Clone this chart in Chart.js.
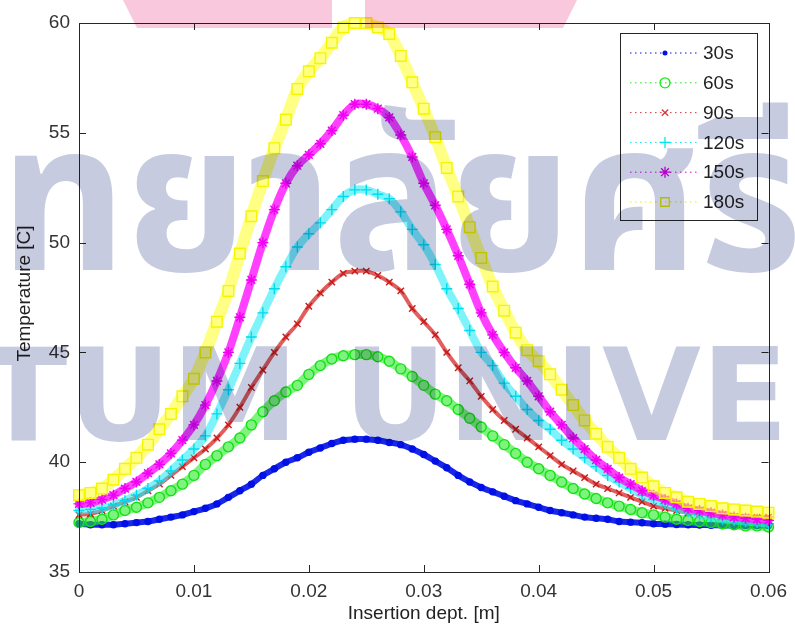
<!DOCTYPE html>
<html>
<head>
<meta charset="utf-8">
<script src="https://cdn.jsdelivr.net/npm/chart.js@4.4.0/dist/chart.umd.min.js"></script>
<style>
  html, body { margin: 0; padding: 0; background: #fff; }
  canvas { display: block; }
</style>
</head>
<body>
<canvas id="chartCanvas" width="795" height="632"></canvas>
<script>
// insertion depth [m], one sample per millimetre
const depth = [0, 0.001, 0.002, 0.003, 0.004, 0.005, 0.006, 0.007, 0.008, 0.009,
  0.010, 0.011, 0.012, 0.013, 0.014, 0.015, 0.016, 0.017, 0.018, 0.019,
  0.020, 0.021, 0.022, 0.023, 0.024, 0.025, 0.026, 0.027, 0.028, 0.029,
  0.030, 0.031, 0.032, 0.033, 0.034, 0.035, 0.036, 0.037, 0.038, 0.039,
  0.040, 0.041, 0.042, 0.043, 0.044, 0.045, 0.046, 0.047, 0.048, 0.049,
  0.050, 0.051, 0.052, 0.053, 0.054, 0.055, 0.056, 0.057, 0.058, 0.059, 0.060];

const temp30s = [37.2, 37.15, 37.15, 37.15, 37.2, 37.25, 37.3, 37.4, 37.5, 37.6,
  37.75, 37.9, 38.1, 38.4, 38.7, 39.0, 39.4, 39.7, 40.0, 40.2,
  40.45, 40.65, 40.85, 41.0, 41.05, 41.05, 41.0, 40.9, 40.8, 40.6,
  40.35, 40.05, 39.75, 39.4, 39.1, 38.85, 38.65, 38.45, 38.25, 38.1,
  37.95, 37.8, 37.7, 37.6, 37.5, 37.45, 37.4, 37.3, 37.27, 37.24,
  37.2, 37.18, 37.16, 37.15, 37.14, 37.13, 37.12, 37.12, 37.12, 37.12, 37.12];

const temp60s = [37.25, 37.3, 37.4, 37.6, 37.8, 37.95, 38.15, 38.4, 38.7, 39.0,
  39.4, 39.9, 40.3, 40.7, 41.1, 41.7, 42.3, 42.8, 43.2, 43.5,
  44.0, 44.4, 44.7, 44.85, 44.9, 44.9, 44.8, 44.6, 44.25, 43.9,
  43.5, 43.1, 42.8, 42.4, 42.0, 41.6, 41.2, 40.8, 40.4, 40.0,
  39.7, 39.4, 39.1, 38.8, 38.55, 38.35, 38.15, 38.0, 37.85, 37.7,
  37.6, 37.5, 37.4, 37.35, 37.3, 37.25, 37.2, 37.15, 37.1, 37.1, 37.05];

const temp90s = [37.6, 37.65, 37.8, 38.0, 38.2, 38.4, 38.7, 39.0, 39.4, 39.8,
  40.2, 40.6, 41.1, 41.7, 42.5, 43.4, 44.2, 45.0, 45.7, 46.3,
  47.1, 47.7, 48.2, 48.6, 48.7, 48.7, 48.5, 48.2, 47.8, 47.0,
  46.4, 45.8, 45.0, 44.3, 43.7, 43.0, 42.4, 41.9, 41.5, 41.1,
  40.7, 40.3, 39.9, 39.6, 39.3, 39.0, 38.8, 38.6, 38.4, 38.2,
  38.0, 37.9, 37.8, 37.7, 37.65, 37.6, 37.55, 37.5, 37.5, 37.5, 37.5];

const temp120s = [37.8, 37.85, 37.9, 38.05, 38.25, 38.5, 38.8, 39.15, 39.6, 40.1,
  40.6, 41.2, 42.2, 43.3, 44.5, 45.7, 46.8, 47.9, 48.9, 49.8,
  50.4, 50.9, 51.5, 52.1, 52.4, 52.4, 52.2, 52.0, 51.4, 50.6,
  49.9, 49.0, 47.9, 47.0, 46.0, 45.0, 44.4, 43.6, 43.0, 42.4,
  41.9, 41.5, 41.0, 40.6, 40.2, 39.8, 39.4, 39.1, 38.8, 38.5,
  38.3, 38.1, 37.9, 37.75, 37.6, 37.5, 37.4, 37.35, 37.3, 37.25, 37.2];

const temp150s = [38.1, 38.15, 38.3, 38.5, 38.8, 39.1, 39.5, 39.9, 40.4, 41.0,
  41.7, 42.6, 43.7, 45.0, 46.6, 48.3, 50.0, 51.5, 52.7, 53.5,
  54.0, 54.5, 55.1, 55.8, 56.3, 56.3, 56.1, 55.7, 54.9, 53.9,
  52.7, 51.7, 50.6, 49.4, 48.1, 46.8, 45.8, 45.0, 44.3, 43.7,
  43.0, 42.3, 41.7, 41.1, 40.6, 40.1, 39.7, 39.3, 39.0, 38.7,
  38.5, 38.3, 38.1, 37.9, 37.8, 37.7, 37.6, 37.5, 37.45, 37.4, 37.35];

const temp180s = [38.5, 38.6, 38.8, 39.2, 39.7, 40.2, 40.8, 41.5, 42.2, 43.0,
  43.8, 45.0, 46.4, 47.8, 49.5, 51.2, 52.8, 54.3, 55.6, 57.0,
  57.8, 58.4, 59.1, 59.8, 60.0, 60.0, 59.8, 59.5, 58.5, 57.3,
  56.1, 54.8, 53.4, 52.1, 50.7, 49.3, 48.0, 46.9, 45.9, 45.1,
  44.6, 44.0, 43.3, 42.6, 41.9, 41.3, 40.7, 40.2, 39.7, 39.3,
  38.9, 38.6, 38.4, 38.2, 38.1, 38.0, 37.9, 37.85, 37.8, 37.75, 37.7];

const seriesNames = ["30s", "60s", "90s", "120s", "150s", "180s"];
const seriesValues = [temp30s, temp60s, temp90s, temp120s, temp150s, temp180s];
const xTicks = [0, 0.01, 0.02, 0.03, 0.04, 0.05, 0.06];
const yTicks = [35, 40, 45, 50, 55, 60];

// matlab style: '.', 'o', 'x', '+', '*', 's'
// band = the thick trail the densely packed markers leave in the picture
const styles = [
  { color: "rgb(0,16,230)", band: "rgba(0,16,230,0.9)", bandW: 6, marker: "circle", r: 3, fill: true },
  { color: "rgb(20,225,20)", band: "rgba(40,235,40,0.6)", bandW: 9, marker: "circle", r: 5, fill: false },
  { color: "rgb(200,25,25)", band: "rgba(215,40,40,0.75)", bandW: 4, marker: "crossRot", r: 4.5, fill: false },
  { color: "rgb(0,220,235)", band: "rgba(40,235,245,0.6)", bandW: 8, marker: "cross", r: 5.5, fill: false },
  { color: "rgb(240,0,240)", band: "rgba(255,30,255,0.85)", bandW: 8, marker: "star", r: 5.5, fill: false },
  { color: "rgb(245,245,0)", band: "rgba(255,255,30,0.55)", bandW: 12, marker: "rect", r: 7.5, fill: false },
];
const legendColors = ["rgb(0,16,230)", "rgb(20,235,20)", "rgb(215,60,60)", "rgb(0,230,240)", "rgb(230,0,230)", "rgb(235,235,0)"];

const FONT = '"Liberation Sans", Arial, sans-serif';

function drawMarker(ctx, kind, x, y, r) {
  ctx.beginPath();
  if (kind === "circle") {
    ctx.arc(x, y, r, 0, Math.PI * 2);
  } else if (kind === "rect") {
    const s = r * Math.SQRT1_2;
    ctx.rect(x - s, y - s, 2 * s, 2 * s);
  } else {
    if (kind === "cross" || kind === "star") {
      ctx.moveTo(x - r, y); ctx.lineTo(x + r, y);
      ctx.moveTo(x, y - r); ctx.lineTo(x, y + r);
    }
    if (kind === "crossRot" || kind === "star") {
      const d = r * Math.SQRT1_2;
      ctx.moveTo(x - d, y - d); ctx.lineTo(x + d, y + d);
      ctx.moveTo(x - d, y + d); ctx.lineTo(x + d, y - d);
    }
  }
}

const decor = {
  id: "decor",
  afterDraw(chart) {
    const ctx = chart.ctx;
    const a = chart.chartArea;
    const xs = chart.scales.x, ys = chart.scales.y;

    // axes box + inward ticks
    ctx.save();
    ctx.strokeStyle = "#262626";
    ctx.lineWidth = 1;
    ctx.strokeRect(Math.round(a.left) + 0.5, Math.round(a.top) + 0.5,
      Math.round(a.right - a.left), Math.round(a.bottom - a.top));
    ctx.beginPath();
    xTicks.forEach(v => {
      const px = Math.round(xs.getPixelForValue(v)) + 0.5;
      ctx.moveTo(px, a.bottom); ctx.lineTo(px, a.bottom - 7);
      ctx.moveTo(px, a.top); ctx.lineTo(px, a.top + 7);
    });
    yTicks.forEach(v => {
      const py = Math.round(ys.getPixelForValue(v)) + 0.5;
      ctx.moveTo(a.left, py); ctx.lineTo(a.left + 7, py);
      ctx.moveTo(a.right, py); ctx.lineTo(a.right - 7, py);
    });
    ctx.stroke();

    // axis titles
    ctx.fillStyle = "#222";
    ctx.font = "19px " + FONT;
    ctx.textAlign = "center";
    ctx.textBaseline = "middle";
    ctx.fillText("Insertion dept. [m]", (a.left + a.right) / 2, 614);
    ctx.save();
    ctx.translate(25, (a.top + a.bottom) / 2 - 4);
    ctx.rotate(-Math.PI / 2);
    ctx.fillText("Temperature [C]", 0, 0);
    ctx.restore();

    // legend box
    const lx = 620, ly = 33, lw = 137, lh = 187;
    ctx.fillStyle = "#fff";
    ctx.fillRect(lx, ly, lw, lh);
    ctx.strokeStyle = "#262626";
    ctx.strokeRect(lx + 0.5, ly + 0.5, lw, lh);
    seriesNames.forEach((name, i) => {
      const st = styles[i];
      const col = legendColors[i];
      const cy = ly + 20 + i * 29.8;
      ctx.save();
      ctx.strokeStyle = col;
      ctx.lineWidth = 1;
      ctx.setLineDash([1.5, 3.5]);
      ctx.beginPath();
      ctx.moveTo(lx + 10, cy); ctx.lineTo(lx + 80, cy);
      ctx.stroke();
      ctx.restore();
      ctx.save();
      ctx.strokeStyle = col;
      ctx.fillStyle = col;
      ctx.lineWidth = 1.3;
      drawMarker(ctx, st.marker, lx + 45, cy, st.fill ? 2.5 : Math.min(st.r, 6));
      if (st.fill) ctx.fill(); else ctx.stroke();
      ctx.restore();
      ctx.fillStyle = "#222";
      ctx.font = "19px " + FONT;
      ctx.textAlign = "left";
      ctx.fillText(name, lx + 83, cy + 1);
    });

    // watermark of the source document (multiplied over the plot)
    ctx.globalCompositeOperation = "multiply";
    ctx.fillStyle = "rgb(199,203,224)";
    ctx.textAlign = "left";
    ctx.textBaseline = "alphabetic";
    ctx.save();
    ctx.scale(0.94, 1);
    ctx.font = 'bold 208px "Noto Sans Thai", "Noto Sans", sans-serif';
    const th = "มหาวิทยาลัยศรีปทุม";
    ctx.fillText(th, 0 - ctx.measureText("มหาวิ").width, 270);
    ctx.restore();
    ctx.font = 'bold 128px "DejaVu Sans", sans-serif';
    const en = "SRIPATUM UNIVERSITY";
    ctx.fillText(en, -10 - ctx.measureText("SRIPA").width, 440);

    ctx.fillStyle = "rgb(249,200,220)";
    ctx.beginPath();
    ctx.moveTo(123, 0); ctx.lineTo(332, 0); ctx.lineTo(332, 28); ctx.lineTo(137, 28);
    ctx.closePath();
    ctx.moveTo(365, 0); ctx.lineTo(577, 0); ctx.lineTo(563, 28); ctx.lineTo(365, 28);
    ctx.closePath();
    ctx.fill();
    ctx.restore();
  }
};

const datasets = seriesNames.map((name, i) => {
  const st = styles[i];
  return {
    label: name,
    data: depth.map((x, k) => ({ x: x, y: seriesValues[i][k] })),
    borderColor: st.band,
    borderWidth: st.bandW,
    borderCapStyle: "round",
    borderJoinStyle: "round",
    tension: 0.3,
    pointStyle: st.marker,
    pointRadius: st.r,
    pointBorderColor: st.color,
    pointBackgroundColor: st.fill ? st.color : "rgba(0,0,0,0)",
    pointBorderWidth: 1.4,
    clip: false,
    order: seriesNames.length - i,
  };
});

const ctx = document.getElementById("chartCanvas").getContext("2d");
window.myChart = new Chart(ctx, {
  type: "line",
  data: { datasets: datasets },
  options: {
    responsive: false,
    animation: false,
    devicePixelRatio: 1,
    layout: { padding: { top: 23, right: 22, left: 0, bottom: 0 } },
    plugins: { legend: { display: false }, tooltip: { enabled: false } },
    scales: {
      x: {
        type: "linear",
        min: 0,
        max: 0.06,
        grid: { display: false, drawTicks: false },
        border: { display: false },
        afterBuildTicks: s => { s.ticks = xTicks.map(v => ({ value: v })); },
        afterFit: s => { s.height = 60; },
        ticks: {
          padding: 8,
          color: "#333",
          font: { family: FONT, size: 19 },
          callback: v => String(+v.toFixed(2)),
        },
      },
      y: {
        min: 35,
        max: 60,
        grid: { display: false, drawTicks: false },
        border: { display: false },
        afterBuildTicks: s => { s.ticks = yTicks.map(v => ({ value: v })); },
        afterFit: s => { s.width = 79; },
        ticks: {
          padding: 9,
          color: "#333",
          font: { family: FONT, size: 19 },
        },
      },
    },
  },
  plugins: [decor],
});
</script>
</body>
</html>
